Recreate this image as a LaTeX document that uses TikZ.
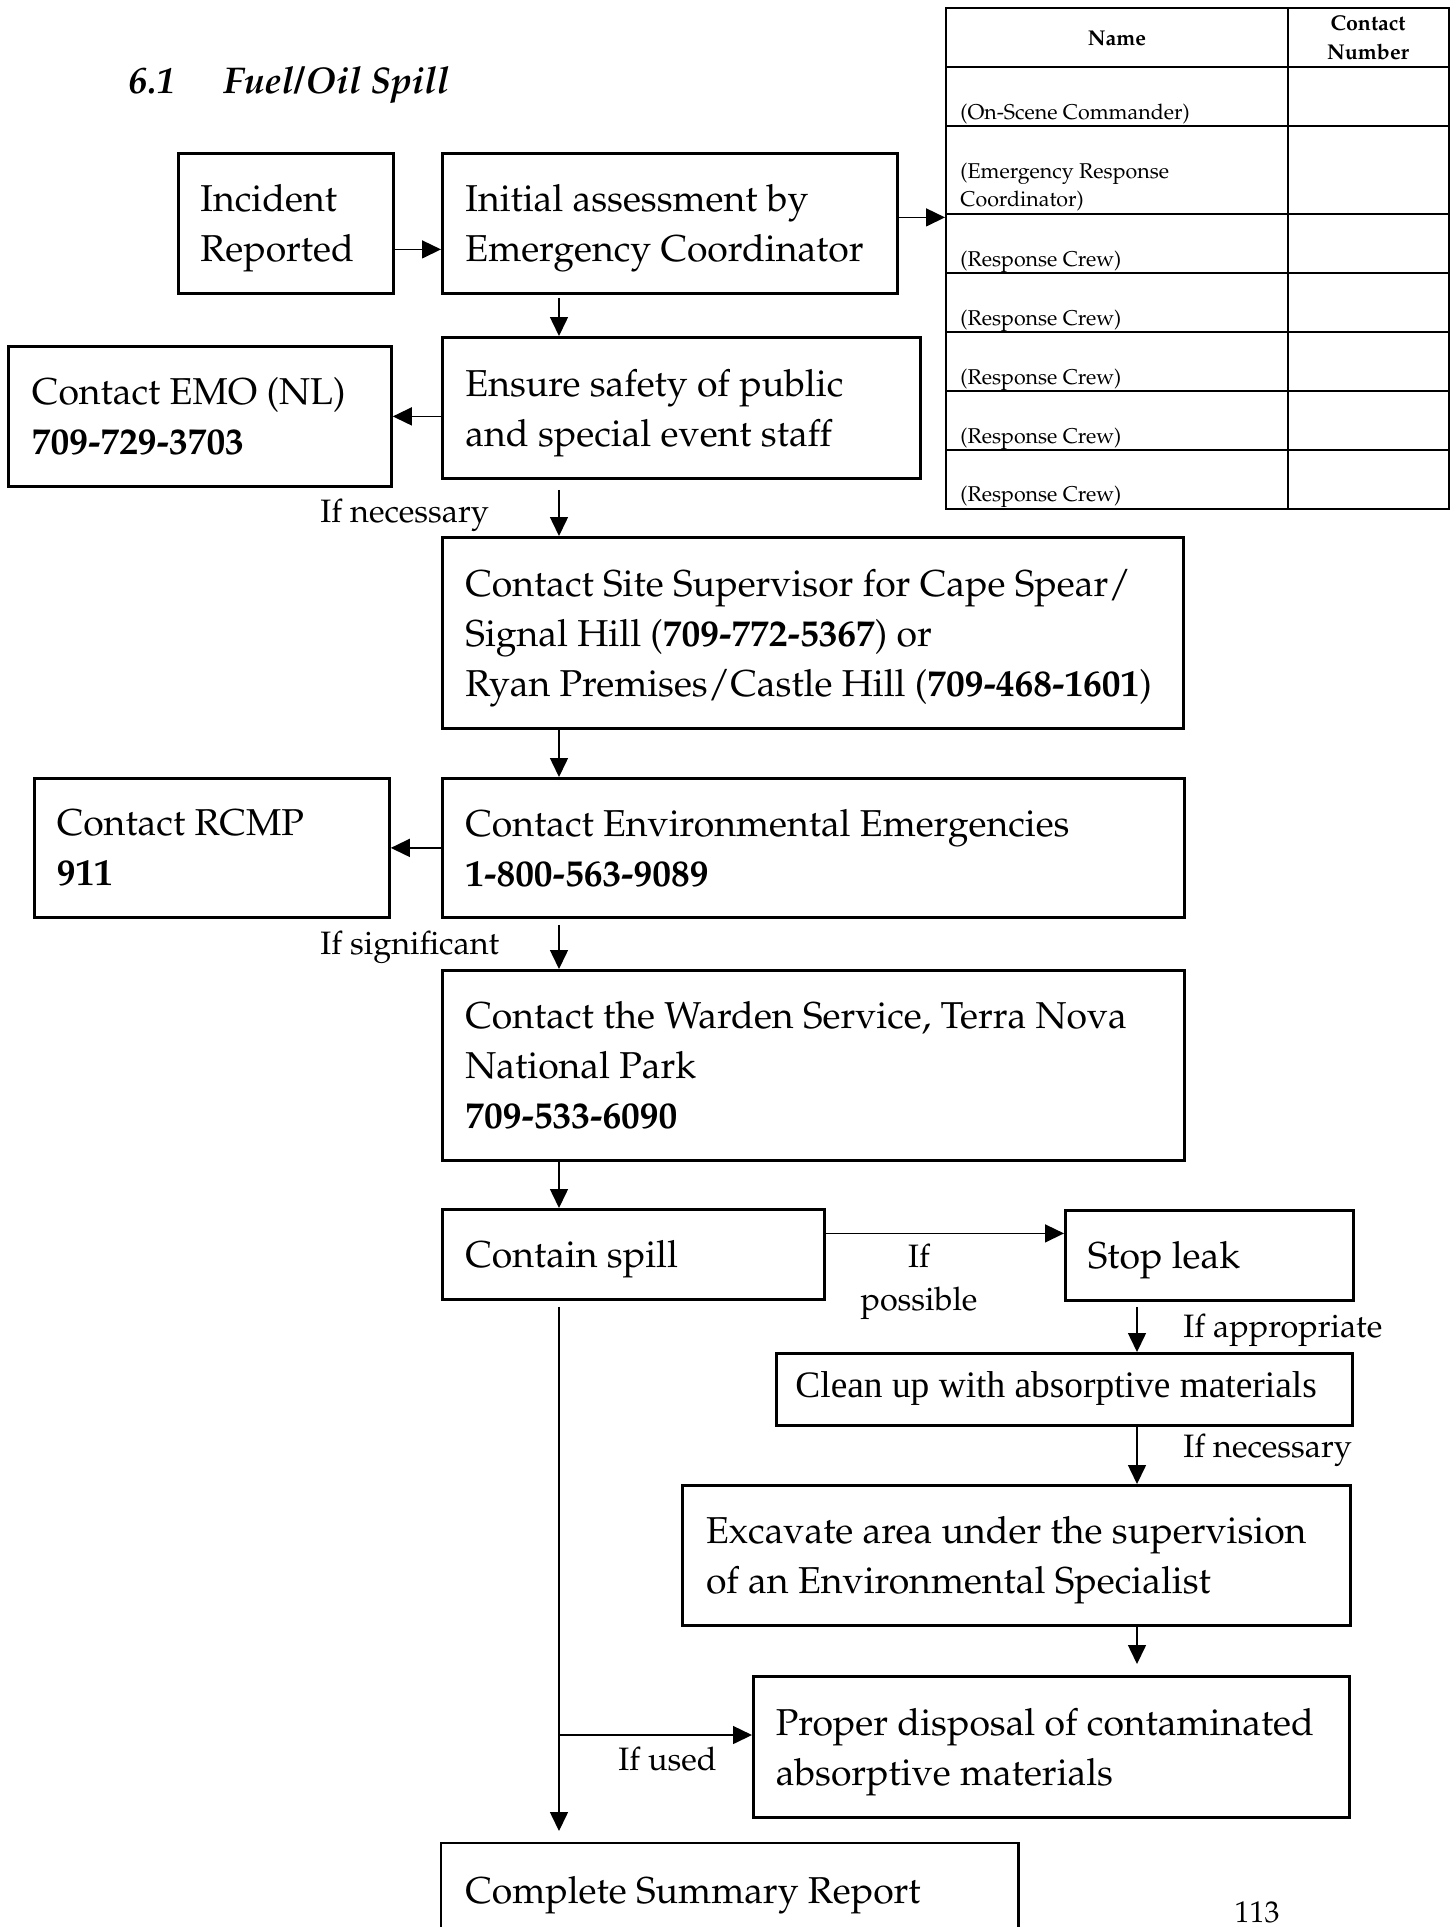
\documentclass[tikz,border=0pt]{standalone}
\usepackage{fontspec}
\newfontfamily\timesfont{Liberation Serif}
\usepackage[T1]{fontenc}
\usepackage{mathpazo}
\usetikzlibrary{arrows.meta}
\begin{document}
\begin{tikzpicture}[x=0.5pt,y=-0.5pt,
  box/.style={draw, line width=1.4pt, inner sep=0pt, anchor=north west},
  txt/.style={font=\fontsize{18.7}{25}\selectfont, align=left, inner sep=0pt, anchor=west, text depth=0pt},
  lbl/.style={font=\fontsize{16.2}{21.5}\selectfont, inner sep=0pt, anchor=west, text depth=0pt},
  small/.style={font=\fontsize{10.7}{14}\selectfont, align=left, inner sep=0pt, anchor=west, text depth=0pt},
  head/.style={font=\bfseries\fontsize{10.7}{14.5}\selectfont, align=center, inner sep=0pt},
  arr/.style={line width=0.75pt, -{Triangle[length=9.5pt,width=9pt]}},
  grid/.style={line width=1.15pt},
]
\useasboundingbox (0,0) rectangle (1455,1927);

% title
\node[font=\bfseries\itshape\fontsize{18.6}{22}\selectfont, inner sep=0pt, anchor=base west] (num) at (128,93) {6.1};
\node[font=\bfseries\itshape\fontsize{18.6}{22}\selectfont, inner sep=0pt, anchor=base west] (title) at (223,93) {Fuel/Oil Spill};

% table
\node[draw, line width=1.15pt, inner sep=0pt, anchor=north west, minimum width=251.5pt, minimum height=250.5pt] (tbl) at (945,7) {};
\draw[grid] (1288,7) -- (1288,508);
\foreach \yy in {67,126,214,273,332,391,450} \draw[grid] (945,\yy) -- (1448,\yy);
\node[head] (h1) at (1117,38) {Name};
\node[head] (h2) at (1368,37.5) {Contact\\Number};
\node[small] (r1) at (960,112) {(On-Scene Commander)};
\node[small] (r2) at (960,185) {(Emergency Response\\Coordinator)};
\node[small] (r3) at (960,259) {(Response Crew)};
\node[small] (r4) at (960,318) {(Response Crew)};
\node[small] (r5) at (960,377) {(Response Crew)};
\node[small] (r6) at (960,436) {(Response Crew)};
\node[small] (r7) at (960,494) {(Response Crew)};

% boxes
\node[box, minimum width=107.5pt, minimum height=70pt] (inc) at (177,152) {};
\node[box, minimum width=227.5pt, minimum height=70pt] (init) at (441,152) {};
\node[box, minimum width=239pt, minimum height=70.5pt] (ensure) at (441,336) {};
\node[box, minimum width=191.5pt, minimum height=70pt] (emo) at (7,345) {};
\node[box, minimum width=370.5pt, minimum height=95.5pt] (site) at (441,536) {};
\node[box, minimum width=371pt, minimum height=69.5pt] (env) at (441,777) {};
\node[box, minimum width=177.5pt, minimum height=69.5pt] (rcmp) at (33,777) {};
\node[box, minimum width=371pt, minimum height=95pt] (warden) at (441,969) {};
\node[box, minimum width=191pt, minimum height=45pt] (contain) at (441,1208) {};
\node[box, minimum width=144pt, minimum height=45pt] (stop) at (1064,1209) {};
\node[box, minimum width=288pt, minimum height=36pt] (clean) at (775,1352) {};
\node[box, minimum width=334pt, minimum height=70pt] (excav) at (681,1484) {};
\node[box, minimum width=298pt, minimum height=70.5pt] (dispose) at (752,1675) {};
\node[box, draw=none, minimum width=287.5pt, minimum height=42pt] (summary) at (441,1843) {};
\draw[line width=1.4pt] (summary.south west) -- (summary.north west) -- (summary.north east) -- (summary.south east);

% box texts
\node[txt] (t-inc) at ([xshift=11.5pt]inc.west) {Incident\\Reported};
\node[txt] (t-init) at ([xshift=12pt]init.west) {Initial assessment by\\Emergency Coordinator};
\node[txt] (t-ensure) at ([xshift=12pt]ensure.west) {Ensure safety of public\\and special event staff};
\node[txt] (t-emo) at ([xshift=12.3pt]emo.west) {Contact EMO (NL)\\\textbf{709-729-3703}};
\node[txt] (t-site) at ([xshift=12pt]site.west) {Contact Site Supervisor for Cape Spear/\\Signal Hill (\textbf{709-772-5367}) or\\Ryan Premises/Castle Hill (\textbf{709-468-1601})};
\node[txt] (t-env) at ([xshift=12pt]env.west) {Contact Environmental Emergencies\\\textbf{1-800-563-9089}};
\node[txt] (t-rcmp) at ([xshift=11.7pt]rcmp.west) {Contact RCMP\\\textbf{911}};
\node[txt] (t-warden) at ([xshift=12pt]warden.west) {Contact the Warden Service, Terra Nova\\National Park\\\textbf{709-533-6090}};
\node[txt] (t-contain) at ([xshift=12pt]contain.west) {Contain spill};
\node[txt] (t-stop) at ([xshift=11.7pt]stop.west) {Stop leak};
\node[txt, font=\timesfont\fontsize{18.7}{25}\selectfont] (t-clean) at ([xshift=10pt,yshift=2.5pt]clean.west) {Clean up with absorptive materials};
\node[txt] (t-excav) at ([xshift=12.3pt]excav.west) {Excavate area under the supervision\\of an Environmental Specialist};
\node[txt] (t-dispose) at ([xshift=11.7pt]dispose.west) {Proper disposal of contaminated\\absorptive materials};
\node[txt] (t-summary) at (465,1890) {Complete Summary Report};

% labels
\node[lbl] (l1) at (320,511) {If necessary};
\node[lbl] (l2) at (320,943) {If significant};
\node[lbl, anchor=center, align=center] (l3) at (919,1277) {If\\possible};
\node[lbl] (l4) at (1183,1326) {If appropriate};
\node[lbl] (l5) at (1183,1446) {If necessary};
\node[lbl] (l6) at (618,1759) {If used};
\node[font=\fontsize{15}{18}\selectfont, inner sep=0pt] (pg) at (1257,1912) {113};

% connectors
\coordinate (colA) at (559,0);
\coordinate (colB) at (1137,0);
\draw[arr] ([yshift=-13pt]inc.east) -- ([yshift=-13pt]inc.east -| init.west);
\draw[arr] ([yshift=3pt]init.east) -- ([yshift=3pt]init.east -| tbl.west);
\draw[arr, shorten <=1.5pt] (init.south -| colA) -- (ensure.north -| colA);
\draw[arr] (emo.east -| ensure.west) -- (emo.east);
\draw[arr, shorten <=5pt] (ensure.south -| colA) -- (site.north -| colA);
\draw[arr] (site.south -| colA) -- (env.north -| colA);
\draw[arr] (env.west) -- (rcmp.east);
\draw[arr, shorten <=3pt] (env.south -| colA) -- (warden.north -| colA);
\draw[arr] (warden.south -| colA) -- (contain.north -| colA);
\draw[arr] ([yshift=10.5pt]contain.east) -- ([yshift=10.5pt]contain.east -| stop.west);
\draw[arr, shorten <=2.5pt] (stop.south -| colB) -- (clean.north -| colB);
\draw[arr] (clean.south -| colB) -- (excav.north -| colB);
\draw[arr, shorten >=5.5pt] (excav.south -| colB) -- (dispose.north -| colB);
\draw[arr, shorten <=3pt, shorten >=6pt] (contain.south -| colA) -- (summary.north -| colA);
\coordinate (br) at (559,1735);
\draw[arr] (br) -- (br -| dispose.west);
\end{tikzpicture}
\end{document}
